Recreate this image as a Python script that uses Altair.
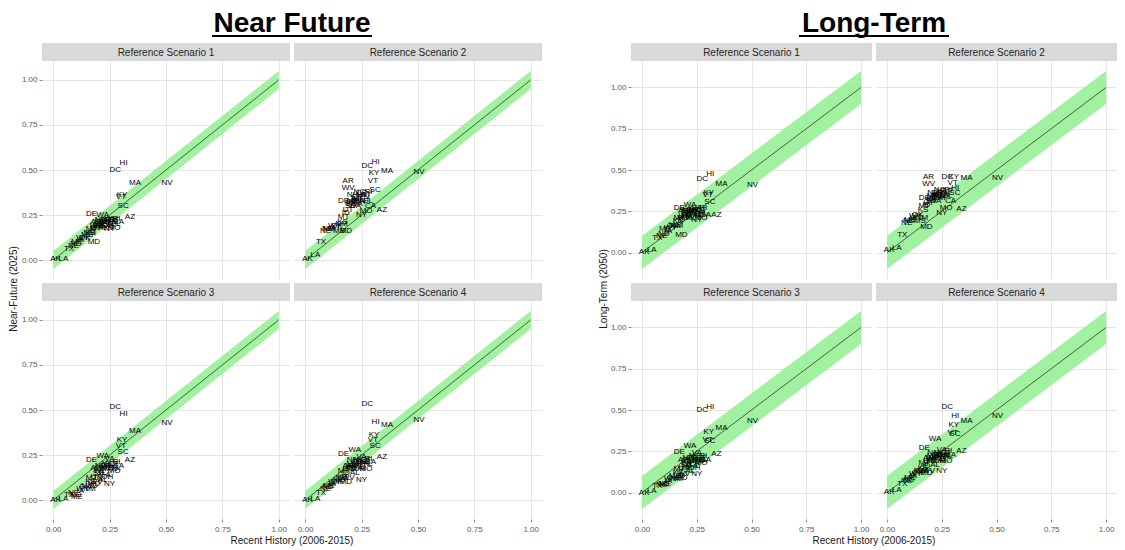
import altair as alt
import pandas as pd

# ---------------- data ----------------
STATES = ["AK", "LA", "TX", "NE", "ND", "ME", "IA", "WY", "OK", "MS", "NM", "KS", "MT", "DE",
          "ID", "MD", "AR", "WV", "UT", "SD", "IN", "WI", "MN", "NH", "WA", "AL", "IL", "OR",
          "GA", "MI", "NC", "OH", "PA", "VA", "CO", "NY", "TN", "NJ", "MO", "CT", "FL", "RI",
          "CA", "DC", "KY", "VT", "HI", "SC", "AZ", "MA", "NV"]

RECENT = [0.01, 0.045, 0.07, 0.09, 0.10, 0.105, 0.12, 0.13, 0.14, 0.15, 0.16, 0.165, 0.17, 0.17,
          0.18, 0.18, 0.19, 0.19, 0.19, 0.20, 0.20, 0.20, 0.21, 0.21, 0.22, 0.22, 0.22, 0.23,
          0.23, 0.23, 0.24, 0.24, 0.24, 0.25, 0.25, 0.25, 0.26, 0.26, 0.27, 0.27, 0.28, 0.28,
          0.29, 0.275, 0.305, 0.30, 0.312, 0.31, 0.34, 0.363, 0.505]

NF_S1 = [0.007, 0.007, 0.06, 0.08, 0.09, 0.10, 0.11, 0.12, 0.12, 0.14, 0.15, 0.15, 0.17, 0.256,
         0.18, 0.10, 0.21, 0.19, 0.18, 0.19, 0.20, 0.19, 0.21, 0.22, 0.25, 0.18, 0.20, 0.22,
         0.19, 0.21, 0.22, 0.19, 0.20, 0.23, 0.22, 0.17, 0.21, 0.20, 0.18, 0.22, 0.20, 0.23,
         0.21, 0.50, 0.36, 0.35, 0.54, 0.30, 0.237, 0.43, 0.43]
NF_S2 = [0.007, 0.027, 0.10, 0.16, 0.17, 0.17, 0.18, 0.19, 0.19, 0.16, 0.20, 0.21, 0.24, 0.33,
         0.26, 0.16, 0.44, 0.40, 0.28, 0.30, 0.32, 0.31, 0.33, 0.36, 0.30, 0.33, 0.34, 0.35,
         0.31, 0.34, 0.38, 0.32, 0.33, 0.36, 0.37, 0.25, 0.35, 0.33, 0.27, 0.36, 0.33, 0.38,
         0.30, 0.523, 0.486, 0.44, 0.547, 0.39, 0.278, 0.495, 0.49]
NF_S3 = [0.0, 0.005, 0.03, 0.04, 0.03, 0.015, 0.05, 0.06, 0.07, 0.08, 0.06, 0.10, 0.12, 0.225,
         0.08, 0.09, 0.18, 0.10, 0.13, 0.15, 0.12, 0.16, 0.17, 0.19, 0.245, 0.11, 0.15, 0.19,
         0.14, 0.18, 0.20, 0.13, 0.17, 0.23, 0.20, 0.09, 0.17, 0.19, 0.16, 0.20, 0.18, 0.21,
         0.19, 0.518, 0.333, 0.30, 0.477, 0.267, 0.222, 0.382, 0.428]
NF_S4 = [0.0, 0.005, 0.04, 0.064, 0.07, 0.08, 0.09, 0.10, 0.10, 0.11, 0.12, 0.13, 0.16, 0.258,
         0.15, 0.10, 0.19, 0.12, 0.17, 0.17, 0.18, 0.19, 0.20, 0.22, 0.28, 0.15, 0.19, 0.21,
         0.18, 0.20, 0.22, 0.17, 0.19, 0.24, 0.21, 0.11, 0.20, 0.21, 0.17, 0.22, 0.20, 0.23,
         0.21, 0.531, 0.364, 0.336, 0.436, 0.30, 0.237, 0.415, 0.442]

LT_S1 = [0.002, 0.015, 0.09, 0.10, 0.11, 0.14, 0.13, 0.15, 0.16, 0.17, 0.16, 0.19, 0.21, 0.27,
         0.20, 0.109, 0.25, 0.21, 0.22, 0.23, 0.22, 0.24, 0.25, 0.26, 0.29, 0.21, 0.24, 0.26,
         0.23, 0.25, 0.26, 0.22, 0.24, 0.27, 0.25, 0.20, 0.24, 0.23, 0.21, 0.26, 0.24, 0.27,
         0.23, 0.443, 0.358, 0.35, 0.473, 0.308, 0.228, 0.413, 0.407]
LT_S2 = [0.016, 0.03, 0.105, 0.18, 0.19, 0.20, 0.21, 0.22, 0.23, 0.19, 0.21, 0.26, 0.28, 0.33,
         0.29, 0.155, 0.457, 0.413, 0.30, 0.31, 0.33, 0.32, 0.34, 0.36, 0.31, 0.34, 0.35, 0.36,
         0.33, 0.35, 0.38, 0.33, 0.34, 0.37, 0.36, 0.24, 0.35, 0.34, 0.27, 0.37, 0.34, 0.38,
         0.31, 0.457, 0.455, 0.42, 0.394, 0.36, 0.264, 0.453, 0.449]
LT_S3 = [0.0, 0.01, 0.04, 0.044, 0.05, 0.05, 0.07, 0.08, 0.09, 0.10, 0.08, 0.12, 0.14, 0.248,
         0.10, 0.09, 0.20, 0.11, 0.15, 0.17, 0.15, 0.18, 0.19, 0.21, 0.283, 0.13, 0.17, 0.21,
         0.16, 0.19, 0.22, 0.15, 0.18, 0.24, 0.21, 0.11, 0.19, 0.20, 0.18, 0.21, 0.20, 0.22,
         0.20, 0.502, 0.366, 0.32, 0.516, 0.313, 0.233, 0.393, 0.436]
LT_S4 = [0.004, 0.014, 0.05, 0.073, 0.075, 0.09, 0.10, 0.11, 0.12, 0.13, 0.13, 0.15, 0.18, 0.27,
         0.16, 0.12, 0.21, 0.13, 0.19, 0.19, 0.20, 0.21, 0.22, 0.24, 0.323, 0.17, 0.21, 0.23,
         0.20, 0.22, 0.24, 0.19, 0.21, 0.26, 0.23, 0.13, 0.22, 0.22, 0.19, 0.24, 0.22, 0.25,
         0.23, 0.516, 0.408, 0.36, 0.462, 0.353, 0.253, 0.432, 0.462]

SCENARIOS = ["Reference Scenario 1", "Reference Scenario 2",
             "Reference Scenario 3", "Reference Scenario 4"]

TICKS = [0.0, 0.25, 0.5, 0.75, 1.0]
DIAG = [0.0, 1.0]
NF_BAND_LO = [-0.05, 0.95]
NF_BAND_HI = [0.05, 1.05]
LT_BAND_LO = [-0.10, 0.90]
LT_BAND_HI = [0.10, 1.10]

# ---------------- styling ----------------
FONT = "Liberation Sans"
NF_W, LT_W = 248, 241
PLOT_H, STRIP_H = 218, 18
GRID = "#E6E6E6"
X_DOM = [-0.05, 1.05]
NF_YDOM = [-0.105, 1.105]
LT_YDOM = [-0.16, 1.16]


def deco_text(text, x, y, size, weight="normal", angle=0, color="#1a1a1a", baseline="middle"):
    props = dict(align="center", baseline=baseline, fontSize=size, fontWeight=weight, color=color)
    if angle:
        props["angle"] = angle
    return alt.Chart(pd.DataFrame({"t": [text]})).mark_text(**props).encode(
        text="t:N", x=alt.value(x), y=alt.value(y))


def deco_rule(x1, x2, y, width=2):
    return alt.Chart(pd.DataFrame({"t": [0]})).mark_rule(color="black", strokeWidth=width).encode(
        x=alt.value(x1), x2=alt.value(x2), y=alt.value(y))


def panel(yvals, title, w, ydom, lo, hi, show_x, show_y, extras=()):
    ext = (ydom[1] - ydom[0]) * STRIP_H / PLOT_H
    xs = alt.Scale(domain=X_DOM, nice=False, zero=False)
    ys = alt.Scale(domain=[ydom[0], ydom[1] + ext], nice=False, zero=False)
    common = dict(values=TICKS, format=".2f", grid=True, gridColor=GRID, gridWidth=1,
                  domain=False, tickSize=3, tickColor="#8a8a8a", labelFontSize=8,
                  labelColor="#5a5a5a", labelFlush=False, title=None)
    xaxis = alt.Axis(labels=show_x, ticks=show_x, labelPadding=3, **common)
    yaxis = alt.Axis(labels=show_y, ticks=show_y, labelPadding=2, **common)

    band_df = pd.DataFrame({"x": DIAG, "y": DIAG, "lo": lo, "hi": hi})
    pts = pd.DataFrame({"state": STATES, "recent": RECENT, "future": yvals})

    band = alt.Chart(band_df).mark_area(color="#90EE90", opacity=0.85).encode(
        x=alt.X("x:Q", scale=xs, axis=xaxis),
        y=alt.Y("lo:Q", scale=ys, axis=yaxis), y2="hi:Q")
    line = alt.Chart(band_df).mark_line(color="#335533", strokeWidth=0.9).encode(
        x=alt.X("x:Q", scale=xs, axis=xaxis), y=alt.Y("y:Q", scale=ys, axis=yaxis))
    labels = alt.Chart(pts).mark_text(fontSize=8, color="#000000", align="center",
                                      baseline="middle").encode(
        x=alt.X("recent:Q", scale=xs, axis=xaxis),
        y=alt.Y("future:Q", scale=ys, axis=yaxis), text="state:N")
    strip = alt.Chart(pd.DataFrame({"t": [title]})).mark_rect(color="#D9D9D9").encode(
        x=alt.value(0), x2=alt.value(w), y=alt.value(0), y2=alt.value(STRIP_H))
    strip_txt = deco_text(title, w / 2, STRIP_H / 2 + 0.5, 10, color="#262626")
    return alt.layer(band, line, labels, strip, strip_txt, *extras).properties(
        width=w, height=STRIP_H + PLOT_H)


def figure_panels(series, w, ydom, lo, hi, fig_title, half_ul, ytitle, ytitle_x):
    full_h = STRIP_H + PLOT_H
    top_extras = [
        deco_text(fig_title, w + 2, -11, 28, weight="bold", color="black", baseline="alphabetic"),
        deco_rule(w + 2 - half_ul, w + 2 + half_ul, -7),
        deco_text(ytitle, ytitle_x, full_h + 10, 10, angle=270, color="#1a1a1a"),
    ]
    bottom_extras = [
        deco_text("Recent History (2006-2015)", w + 2, full_h + 22, 10, color="#1a1a1a"),
    ]
    p1 = panel(series[0], SCENARIOS[0], w, ydom, lo, hi, False, True, top_extras)
    p2 = panel(series[1], SCENARIOS[1], w, ydom, lo, hi, False, False)
    p3 = panel(series[2], SCENARIOS[2], w, ydom, lo, hi, True, True, bottom_extras)
    p4 = panel(series[3], SCENARIOS[3], w, ydom, lo, hi, True, False)
    return p1, p2, p3, p4


nf = figure_panels([NF_S1, NF_S2, NF_S3, NF_S4], NF_W, NF_YDOM, NF_BAND_LO, NF_BAND_HI,
                   "Near Future", 80, "Near-Future (2025)", -28.5)
lt = figure_panels([LT_S1, LT_S2, LT_S3, LT_S4], LT_W, LT_YDOM, LT_BAND_LO, LT_BAND_HI,
                   "Long-Term", 75, "Long-Term (2050)", -27)


def spacer():
    return alt.Chart(pd.DataFrame({"t": [0]})).mark_point(opacity=0).encode(
        x=alt.value(0), y=alt.value(0)).properties(width=81, height=STRIP_H + PLOT_H)


chart = alt.concat(
    nf[0], nf[1], spacer(), lt[0], lt[1],
    nf[2], nf[3], spacer(), lt[2], lt[3],
    columns=5, spacing=4, bounds="flush", align="each",
).properties(
    padding={"top": 2, "left": 0, "right": 0, "bottom": 0}
).configure(font=FONT).configure_view(stroke=None)

chart.save("out.html", embed_options={"renderer": "svg", "actions": False})
